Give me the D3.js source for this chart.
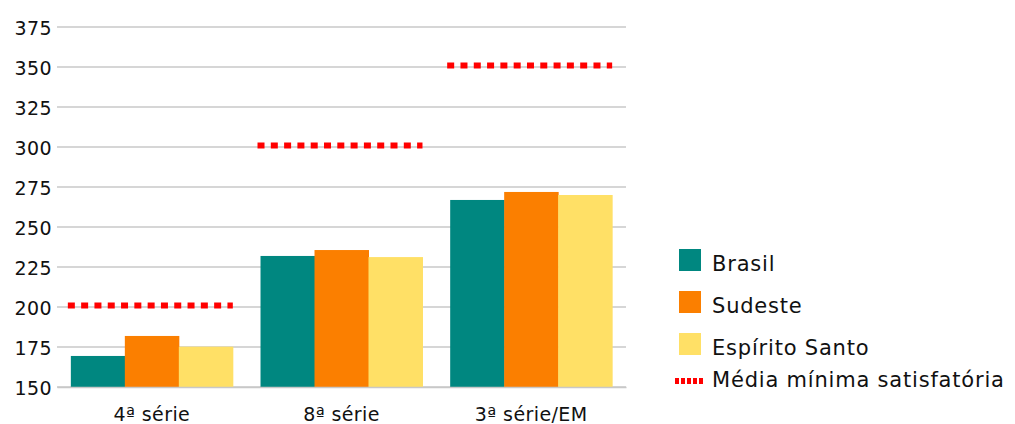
<!DOCTYPE html>
<html>
<head>
<meta charset="utf-8">
<script src="https://cdn.jsdelivr.net/npm/d3@7"></script>
<style>
  body { margin: 0; background: #fff; }
  svg { display: block; font-family: "DejaVu Sans", Verdana, sans-serif; }
  .grid line { stroke: #c8c8c8; stroke-width: 1.5; }
  .y-axis text, .x-axis text { font-family: "DejaVu Sans", Verdana, sans-serif; font-size: 19px; fill: #111; letter-spacing: 0.4px; }
  .legend text { font-size: 21px; fill: #111; letter-spacing: 0.8px; }
</style>
</head>
<body>
<svg id="chart" width="1015" height="424"></svg>
<script>
// data
const categories = ["4ª série", "8ª série", "3ª série/EM"]
const seriesNames = ["Brasil", "Sudeste", "Espírito Santo"]
const brasil = [169.4, 231.9, 266.9]
const sudeste = [181.9, 235.6, 271.9]
const espiritoSanto = [175.2, 231.2, 270]
const mediaMinima = [201, 301, 351]
const yTicks = [150, 175, 200, 225, 250, 275, 300, 325, 350, 375]
const lineName = "Média mínima satisfatória"

const colors = ["#008780", "#fb7f00", "#ffe066"]
const red = "#ff0000"

const margin = {top: 27, left: 57, right: 389, bottom: 37}
const width = 1015, height = 424
const figW = width - margin.left - margin.right
const figH = height - margin.top - margin.bottom

const svg = d3.select("#chart")
const fig = svg.append("g")
    .attr("transform", "translate(" + margin.left + "," + margin.top + ")")

const y = d3.scaleLinear().domain([150, 375]).range([figH, 0])

const x0 = d3.scaleBand()
    .domain(categories)
    .range([0, figW])
    .paddingInner(0.146)
    .paddingOuter(0.073)

const x1 = d3.scaleBand()
    .domain(seriesNames)
    .range([0, x0.bandwidth()])

// gridlines
fig.append("g").attr("class", "grid")
    .selectAll("line")
    .data(yTicks)
    .join("line")
    .attr("x1", 0).attr("x2", figW)
    .attr("y1", d => y(d)).attr("y2", d => y(d))

// y axis labels
const yAxis = d3.axisLeft(y).tickValues(yTicks).tickSize(0).tickPadding(5)
fig.append("g").attr("class", "y-axis")
    .call(yAxis)
    .call(g => g.select(".domain").remove())
    .selectAll("text").attr("dy", "0.4em")

// bars
const table = categories.map((c, i) => ({
    cat: c,
    values: [brasil[i], sudeste[i], espiritoSanto[i]],
    meta: mediaMinima[i]
}))

const groups = fig.append("g").attr("class", "bars")
    .selectAll("g")
    .data(table)
    .join("g")
    .attr("transform", d => "translate(" + x0(d.cat) + ",0)")

groups.selectAll("rect")
    .data(d => d.values.map((v, j) => ({name: seriesNames[j], v: v, j: j})))
    .join("rect")
    .attr("x", d => x1(d.name))
    .attr("width", x1.bandwidth() + 0.5)
    .attr("y", d => y(d.v))
    .attr("height", d => y(150) - y(d.v))
    .attr("fill", d => colors[d.j])

// red dotted target lines
groups.append("line")
    .attr("x1", -3).attr("x2", x0.bandwidth())
    .attr("y1", d => y(d.meta)).attr("y2", d => y(d.meta))
    .attr("stroke", red)
    .attr("stroke-width", 6)
    .attr("stroke-dasharray", "7,6.3")

// x axis
const xAxis = d3.axisBottom(x0).tickSize(0).tickPadding(21)
fig.append("g").attr("class", "x-axis")
    .attr("transform", "translate(0," + figH + ")")
    .call(xAxis)
    .call(g => g.select(".domain").attr("stroke", "#c8c8c8").attr("stroke-width", 1.5))

// legend
const legend = svg.append("g").attr("class", "legend")
    .attr("transform", "translate(679,249)")

const items = legend.selectAll("g")
    .data(seriesNames)
    .join("g")
    .attr("transform", (d, i) => "translate(0," + (i * 42) + ")")

items.append("rect")
    .attr("width", 22).attr("height", 22)
    .attr("fill", (d, i) => colors[i])

items.append("text")
    .attr("x", 33).attr("y", 22)
    .text(d => d)

const lineItem = legend.append("g")
    .attr("transform", "translate(0," + (3 * 42) + ")")

lineItem.append("line")
    .attr("x1", -4).attr("x2", 24)
    .attr("y1", 6).attr("y2", 6)
    .attr("stroke", red)
    .attr("stroke-width", 6)
    .attr("stroke-dasharray", "4,2")

lineItem.append("text")
    .attr("x", 33).attr("y", 12)
    .text(lineName)
</script>
</body>
</html>
